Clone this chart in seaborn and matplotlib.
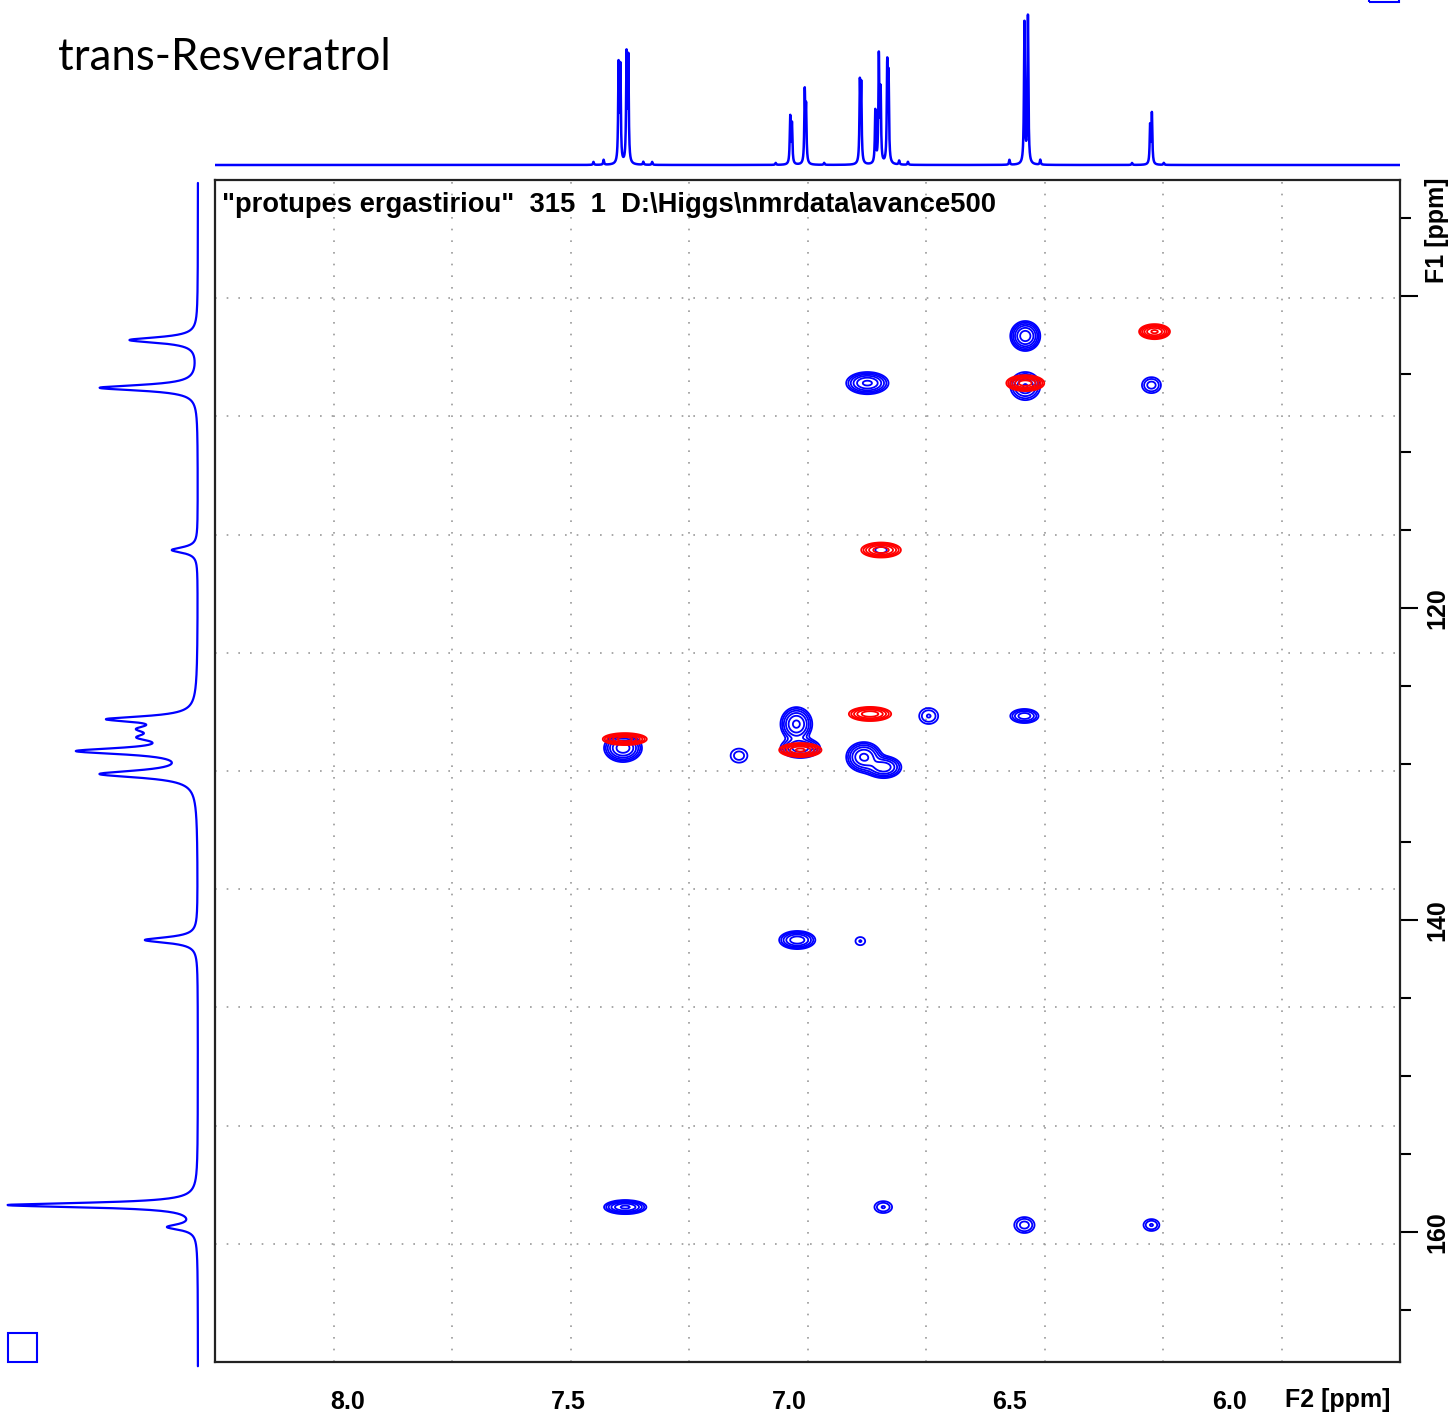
import numpy as np
import matplotlib
matplotlib.use('Agg')
import matplotlib.pyplot as plt
from matplotlib.patches import Rectangle
from matplotlib.ticker import MultipleLocator, FuncFormatter
import seaborn as sns

# --- date citite din spectru ---
# proiectia 1H (F2): pozitia liniilor [ppm] si inaltimea lor
h_ppm = [7.443, 7.420, 7.386, 7.382, 7.368, 7.364, 7.330, 7.310, 7.030,
         6.997, 6.993, 6.964, 6.961, 6.920, 6.839, 6.836, 6.804, 6.796,
         6.792, 6.777, 6.774, 6.750, 6.730, 6.500, 6.466, 6.458, 6.430,
         6.222, 6.181, 6.177, 6.150]
h_int = [3, 5, 98, 94, 106, 103, 3, 3, 2,
         47, 40, 70, 54, 2, 77, 74, 53, 106,
         70, 95, 84, 4, 3, 5, 142, 150, 5,
         2, 38, 50, 2]

# proiectia 13C (F1): pozitie [ppm], inaltime, semi-latime
c_ppm = [102.82, 105.88, 116.28, 127.12, 127.75, 128.30, 129.17, 130.64, 141.28, 158.27, 159.68]
c_int = [68, 98, 26, 80, 40, 40, 112, 94, 53, 190, 28]
c_hw = [0.22, 0.22, 0.22, 0.22, 0.30, 0.30, 0.25, 0.28, 0.22, 0.18, 0.22]

# semnale albastre (HMBC): F2, F1, latime F2, latime F1, intensitate
blue_f2 = [6.464, 6.822, 6.464, 6.178, 6.791, 6.983, 6.974, 6.683, 6.466, 7.376,
           7.113, 6.830, 6.785, 6.981, 6.838, 7.371, 6.786, 6.466, 6.178]
blue_f1 = [102.56, 105.58, 105.77, 105.71, 116.28, 127.44, 128.97, 126.92, 126.92, 128.97,
           129.46, 129.55, 130.20, 141.28, 141.35, 158.40, 158.40, 159.55, 159.55]
blue_w2 = [0.034, 0.048, 0.034, 0.0215, 0.013, 0.036, 0.045, 0.0215, 0.032, 0.043,
           0.019, 0.040, 0.040, 0.041, 0.011, 0.048, 0.020, 0.023, 0.018]
blue_w1 = [0.96, 0.71, 0.90, 0.51, 0.20, 1.09, 0.64, 0.51, 0.45, 0.90,
           0.45, 0.96, 0.70, 0.58, 0.26, 0.45, 0.38, 0.51, 0.38]
blue_amp = [12, 10, 6, 3, 1.5, 10, 8, 2.5, 5, 12,
            2, 10, 8, 8, 1.6, 10, 2.5, 3, 2.5]

# semnale rosii (HSQC)
red_f2 = [6.171, 6.464, 6.791, 6.816, 6.974, 7.372]
red_f1 = [102.28, 105.58, 116.28, 126.79, 129.10, 128.40]
red_w2 = [0.035, 0.043, 0.045, 0.048, 0.048, 0.050]
red_w1 = [0.48, 0.51, 0.48, 0.45, 0.45, 0.38]
red_amp = [10, 12, 8, 8, 10, 12]

F2_LIM = (8.301, 5.6145)
F1_LIM = (168.33, 92.56)

sns.set_style('white')
plt.rcParams['font.family'] = ['Liberation Sans', 'DejaVu Sans']
plt.rcParams['text.color'] = 'black'

W, H = 1452, 1417
def box(l, t, r, b):
    return [l / W, 1 - b / H, (r - l) / W, (b - t) / H]

fig = plt.figure(figsize=(W / 100, H / 100), dpi=100)
ax = fig.add_axes(box(215, 180, 1400, 1362))
ax_top = fig.add_axes(box(215, 0, 1400, 170))
ax_left = fig.add_axes(box(0, 180, 205, 1362))

# grila punctata (10 diviziuni)
for k in range(1, 10):
    ax.plot([k / 10, k / 10], [0, 1], transform=ax.transAxes, color='#999999',
            lw=1.2, ls=(0, (1, 6)), zorder=0)
    ax.plot([0, 1], [k / 10, k / 10], transform=ax.transAxes, color='#999999',
            lw=1.2, ls=(0, (1, 6)), zorder=0)

# harta 2D
gx = np.linspace(F2_LIM[0], F2_LIM[1], 1200)
gy = np.linspace(F1_LIM[1], F1_LIM[0], 1200)
XX, YY = np.meshgrid(gx, gy)

def camp(f2, f1, w2, w1, amp):
    z = np.zeros_like(XX)
    for a, b, s2, s1, A in zip(f2, f1, w2, w1, amp):
        k = np.sqrt(2 * np.log(A))
        z += A * np.exp(-0.5 * (((XX - a) / (s2 / k)) ** 2 + ((YY - b) / (s1 / k)) ** 2))
    return z

levels = [1.55 ** i for i in range(10)]
ax.contour(gx, gy, camp(blue_f2, blue_f1, blue_w2, blue_w1, blue_amp),
           levels=levels, colors='#0000FF', linewidths=1.3, zorder=2)
ax.contour(gx, gy, camp(red_f2, red_f1, red_w2, red_w1, red_amp),
           levels=levels, colors='#FF0000', linewidths=1.3, zorder=3)

ax.set_xlim(*F2_LIM)
ax.set_ylim(*F1_LIM)
ax.xaxis.set_major_locator(MultipleLocator(0.5))
ax.xaxis.set_minor_locator(MultipleLocator(0.1))
ax.xaxis.set_major_formatter(FuncFormatter(lambda v, p: f'{v:.1f}'))
ax.yaxis.tick_right()
ax.yaxis.set_major_locator(MultipleLocator(20))
ax.yaxis.set_minor_locator(MultipleLocator(5))
ax.yaxis.set_major_formatter(FuncFormatter(lambda v, p: '' if abs(v - 100) < 1 else f'{v:.0f}'))
ax.tick_params(axis='both', which='major', direction='out', length=13, width=1.5,
               labelsize=18, pad=7, colors='black')
ax.tick_params(axis='both', which='minor', direction='out', length=8, width=1.5, colors='black')
ax.tick_params(axis='y', which='major', labelrotation=90, pad=5)
for lbl in ax.get_xticklabels() + ax.get_yticklabels():
    lbl.set_fontweight('bold')
for lbl in ax.get_yticklabels():
    lbl.set_va('center')
for s in ax.spines.values():
    s.set_linewidth(1.6)
    s.set_color('#222222')
ax.set_xlabel('')
ax.set_ylabel('')

ax.text(0.006, 1 - 25 / 1182, '"protupes ergastiriou"  315  1  D:\\Higgs\\nmrdata\\avance500',
        transform=ax.transAxes, fontsize=19.7, fontweight='bold', va='center', ha='left')

# proiectia 1H sus
xs = np.linspace(F2_LIM[0], F2_LIM[1], 8000)
spec = np.zeros_like(xs)
for p, i in zip(h_ppm, h_int):
    spec += i / (1 + ((xs - p) / 0.0012) ** 2)
sns.lineplot(x=xs, y=spec, ax=ax_top, color='#0000FF', lw=1.8, estimator=None, sort=False)
ax_top.set_xlim(*F2_LIM)
ax_top.set_ylim(-5, 165)
ax_top.axis('off')

# proiectia 13C stanga
ys = np.linspace(92.75, 168.6, 4000)
cspec = np.zeros_like(ys)
for p, i, w in zip(c_ppm, c_int, c_hw):
    cspec += i / (1 + ((ys - p) / w) ** 2)
sns.lineplot(x=cspec, y=ys, ax=ax_left, color='#0000FF', lw=1.6, estimator=None,
             sort=False, orient='y')
for l in ax_left.lines:
    l.set_clip_on(False)
ax_left.set_xlim(198, -7)
ax_left.set_ylim(*F1_LIM)
ax_left.axis('off')

# texte
fig.text(58 / W, 1 - 57 / H, 'trans-Resveratrol', fontsize=31.5, family=['Lato', 'DejaVu Sans'],
         va='center', ha='left', color='black')
fig.text(1338 / W, 1 - 1400 / H, 'F2 [ppm]', fontsize=18, fontweight='bold', ha='center', va='center')
fig.text(1437 / W, 1 - 230 / H, 'F1 [ppm]', fontsize=18, fontweight='bold', rotation=90,
         ha='center', va='center')

# patratele albastre
fig.add_artist(Rectangle((8 / W, 1 - 1362 / H), 29 / W, 29 / H, transform=fig.transFigure,
                         fill=False, ec='#0000FF', lw=1.5))
fig.add_artist(Rectangle((1369 / W, 1 - 1.5 / H), 30 / W, 30 / H, transform=fig.transFigure,
                         fill=False, ec='#0000FF', lw=1.5))

fig.savefig('out.png', dpi=100)
